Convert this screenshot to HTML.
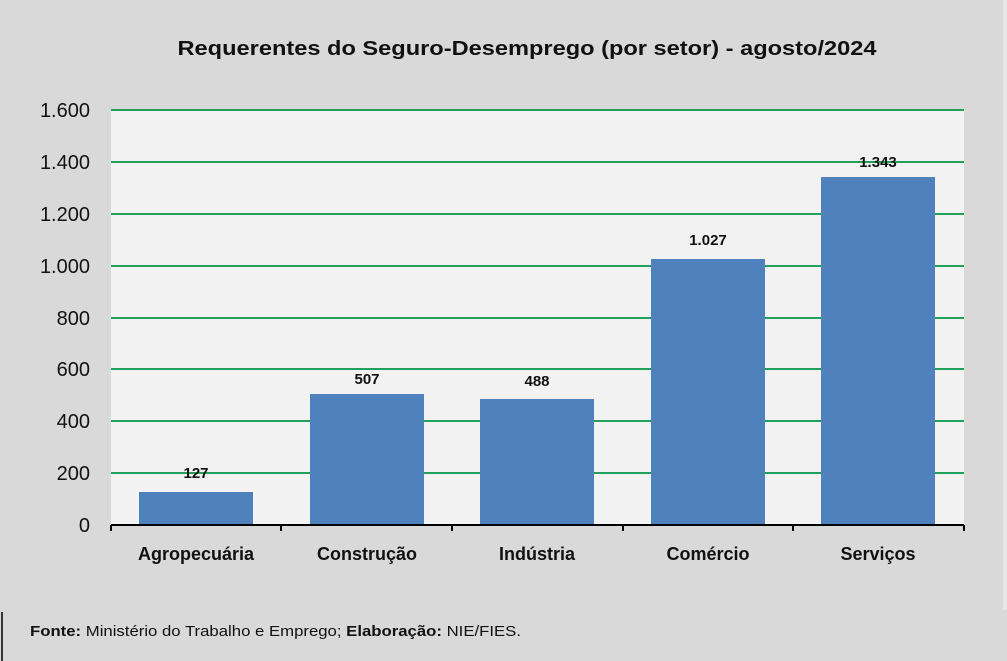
<!DOCTYPE html>
<html><head><meta charset="utf-8"><style>
html,body{margin:0;padding:0;background:#d9d9d9;}
svg{display:block;}
</style></head><body>
<svg width="1007" height="661" viewBox="0 0 1007 661" xmlns="http://www.w3.org/2000/svg" font-family="Liberation Sans, sans-serif">
<rect x="0" y="0" width="1007" height="661" fill="#d9d9d9"/>
<rect x="1003" y="0" width="4" height="610" fill="#e6e6e6"/>
<line x1="2" y1="612" x2="2" y2="661" stroke="#000" stroke-width="1.5"/>
<text x="527" y="55" text-anchor="middle" font-size="20" font-weight="bold" fill="#111" textLength="699" lengthAdjust="spacingAndGlyphs">Requerentes do Seguro-Desemprego (por setor) - agosto/2024</text>
<rect x="111" y="110" width="853" height="415" fill="#f2f2f2"/>
<g stroke="#21a05a" stroke-width="2">
<line x1="111" y1="110" x2="964" y2="110"/>
<line x1="111" y1="162" x2="964" y2="162"/>
<line x1="111" y1="214" x2="964" y2="214"/>
<line x1="111" y1="266" x2="964" y2="266"/>
<line x1="111" y1="318" x2="964" y2="318"/>
<line x1="111" y1="369" x2="964" y2="369"/>
<line x1="111" y1="421" x2="964" y2="421"/>
<line x1="111" y1="473" x2="964" y2="473"/>
</g>
<g fill="#4f81bd">
<rect x="139" y="492" width="114" height="33"/>
<rect x="310" y="394" width="114" height="131"/>
<rect x="480" y="399" width="114" height="126"/>
<rect x="651" y="259" width="114" height="266"/>
<rect x="821" y="177" width="114" height="348"/>
</g>
<g stroke="#000" stroke-width="2">
<line x1="111" y1="525" x2="964" y2="525"/>
<line x1="111" y1="525" x2="111" y2="531"/>
<line x1="281" y1="525" x2="281" y2="531"/>
<line x1="452" y1="525" x2="452" y2="531"/>
<line x1="623" y1="525" x2="623" y2="531"/>
<line x1="793" y1="525" x2="793" y2="531"/>
<line x1="964" y1="525" x2="964" y2="531"/>
</g>
<g font-size="20" fill="#111" text-anchor="end">
<text x="90" y="117">1.600</text>
<text x="90" y="169">1.400</text>
<text x="90" y="221">1.200</text>
<text x="90" y="273">1.000</text>
<text x="90" y="325">800</text>
<text x="90" y="376">600</text>
<text x="90" y="428">400</text>
<text x="90" y="480">200</text>
<text x="90" y="532">0</text>
</g>
<g font-size="15" font-weight="bold" fill="#111" text-anchor="middle">
<text x="196" y="478">127</text>
<text x="367" y="384">507</text>
<text x="537" y="386">488</text>
<text x="708" y="245">1.027</text>
<text x="878" y="167">1.343</text>
</g>
<g font-size="18" font-weight="bold" fill="#111" text-anchor="middle">
<text x="196" y="560">Agropecuária</text>
<text x="367" y="560">Construção</text>
<text x="537" y="560">Indústria</text>
<text x="708" y="560">Comércio</text>
<text x="878" y="560">Serviços</text>
</g>
<text x="30" y="636" font-size="15" fill="#111" textLength="491" lengthAdjust="spacingAndGlyphs"><tspan font-weight="bold">Fonte:</tspan> Ministério do Trabalho e Emprego; <tspan font-weight="bold">Elaboração:</tspan> NIE/FIES.</text>
</svg>
</body></html>
